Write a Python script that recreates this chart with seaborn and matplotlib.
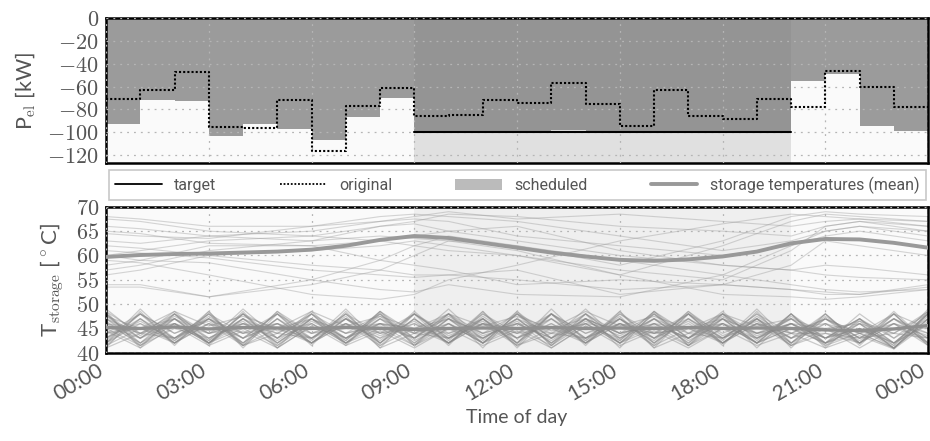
import matplotlib
matplotlib.use("Agg")
import matplotlib.pyplot as plt
import matplotlib.transforms as mtransforms
import seaborn as sns
from matplotlib.lines import Line2D
from matplotlib.patches import Patch

# hourly electrical power [kW], value i holds from hour i to i+1
hours = list(range(25))
scheduled = [-93, -72, -72.5, -103, -93, -97, -107, -87, -70, -100, -100, -100, -100,
             -98, -100, -100, -100, -100, -100, -100, -55.5, -49, -94.5, -99]
original = [-71, -63, -47.5, -95.5, -96.5, -71.5, -116, -77, -61, -86, -84.5, -72,
            -74, -56.5, -75.5, -94.5, -63, -85.5, -88.5, -71, -77.5, -46.5, -60, -77.5]
target_hours = [9, 10, 11, 12, 13, 14, 15, 16, 17, 18, 19, 20]
target = [-100, -100, -100, -100, -100, -100, -100, -100, -100, -100, -100, -100]
window = (9, 20)

# storage temperatures [°C]
mean_high = [59.7, 60.1, 60.3, 60.4, 60.6, 60.8, 61.2, 62.0, 63.2, 64.0, 63.6, 62.6, 61.6,
             60.6, 59.8, 59.1, 58.9, 59.2, 59.8, 60.8, 62.5, 63.4, 63.3, 62.6, 61.6]
mean_low = [45.2, 45.0, 45.3, 44.9, 45.2, 45.1, 45.0, 45.2, 45.0, 44.8, 45.0, 45.1, 45.0,
            45.2, 45.0, 45.1, 45.0, 45.2, 45.0, 45.1, 45.0, 44.7, 44.6, 44.9, 45.6]

upper_hours = [0, 1, 3, 6, 8, 9, 10, 12, 15, 18, 20, 21, 22, 24]
upper_lines = [
    [67.5, 67, 65, 64, 66, 67, 68.5, 68, 66, 65, 64, 66, 67, 66],
    [64.5, 64, 63.5, 66, 68, 68.5, 68, 67, 64, 61, 63, 65, 66, 64],
    [63, 62.5, 64, 65, 67, 67.5, 67, 64, 62, 60, 62, 64, 65, 63],
    [57, 58, 61, 63, 66, 66.5, 65, 63, 60, 58, 57, 58, 57.5, 56],
    [62, 61.5, 60, 58, 57, 56, 56, 55, 53, 54, 53, 52.5, 52, 53.5],
    [54, 54, 51.5, 55, 59, 62, 64, 62, 58, 63, 68, 69, 68.5, 68],
    [53.5, 53.5, 51.5, 54, 57, 60, 63, 61, 56, 62, 67, 68.5, 68, 67],
    [60, 59, 58.5, 55, 53, 52.5, 54, 52, 51.5, 56, 62, 65, 66, 65],
    [58, 59, 62, 62, 59, 58, 57, 54, 55, 54, 53, 52, 52, 54],
    [61, 60.5, 59.5, 57, 56, 55.5, 56, 57, 52, 54, 58, 63, 62, 60],
    [65, 64.5, 62.5, 62, 63, 64, 65, 66, 61, 58, 57, 56, 55.5, 55],
    [66, 65.5, 64, 63, 64, 63.5, 63, 62, 59, 56, 54, 53, 52.5, 53],
    [60, 61, 63, 64, 63, 62, 61, 60, 57, 55, 61, 66, 67, 65],
    [68, 67.5, 66, 66, 67, 68, 69, 67.5, 68.5, 67, 66, 67, 67.5, 66],
    [56, 57, 60, 61, 62, 63, 62, 60, 56, 52, 51.5, 51, 51.5, 53],
    [59, 58.5, 56, 52, 51, 52, 55, 58, 63, 66.5, 68.5, 68, 67.5, 67],
]

lower_lines = [
    [48, 42, 48, 42, 47, 43, 48, 42, 47, 43, 48, 42, 48, 43, 47, 42, 48, 43, 47, 42, 48, 43, 47, 42, 48],
    [42, 48, 42, 47, 43, 48, 42, 47, 42, 48, 43, 47, 42, 48, 43, 47, 42, 47, 43, 48, 42, 47, 43, 48, 42],
    [47, 43, 47, 42, 48, 42, 47, 43, 48, 42, 47, 43, 47, 42, 48, 43, 47, 42, 48, 43, 47, 42, 48, 43, 47],
    [43, 47, 43, 48, 42, 47, 43, 48, 42, 47, 42, 48, 43, 47, 42, 48, 43, 48, 42, 47, 43, 48, 42, 47, 43],
    [46, 44, 47, 43, 46, 44, 47, 43, 46, 44, 47, 44, 46, 43, 47, 44, 46, 43, 47, 44, 46, 43, 45, 42, 46],
    [44, 46, 43, 47, 44, 46, 43, 47, 44, 46, 43, 46, 44, 47, 43, 46, 44, 47, 43, 46, 44, 47, 44, 46, 44],
    [41.5, 47, 42, 48, 41.5, 47, 42, 48, 41.5, 47, 42, 47, 41.5, 48, 42, 47, 41.5, 48, 42, 47, 41.5, 47, 42, 48, 41.5],
    [48, 41.5, 47, 42, 48, 41.5, 47, 42, 48, 41.5, 47, 42, 48, 41.5, 47, 42, 48, 41.5, 47, 42, 48, 41.5, 46, 41, 47],
    [45, 45, 46, 44, 45, 46, 44, 45, 46, 45, 44, 46, 45, 44, 46, 45, 44, 45, 46, 44, 45, 46, 44, 45, 45],
    [47, 44, 48, 43, 47, 44, 48, 43, 47, 44, 48, 43, 47, 44, 48, 43, 47, 44, 48, 43, 46, 43, 47, 42, 48],
    [43, 48, 44, 47, 43, 48, 44, 47, 43, 48, 44, 47, 43, 48, 44, 47, 43, 48, 44, 47, 43, 47, 43, 46, 42],
    [42, 46, 42, 46, 43, 46, 42, 46, 43, 46, 42, 46, 43, 46, 42, 46, 43, 46, 42, 46, 43, 45, 42, 46, 41.5],
    [46, 42, 46, 42, 46, 43, 46, 42, 46, 43, 46, 42, 46, 43, 46, 42, 46, 43, 46, 42, 45, 42, 44, 41, 47],
    [48, 43, 48, 44, 48, 43, 48, 44, 48, 43, 48, 44, 48, 43, 48, 44, 48, 43, 48, 44, 47, 43, 47, 43, 48.5],
    [44, 48, 43, 48, 44, 48, 43, 48, 44, 48, 43, 48, 44, 48, 43, 48, 44, 48, 43, 48, 44, 47, 44, 48, 45],
    [41.5, 45, 42, 46, 41.5, 45, 42, 46, 41.5, 45, 42, 46, 41.5, 45, 42, 46, 41.5, 45, 42, 46, 41.5, 45, 41, 45, 43],
    [45, 41.5, 46, 42, 45, 41.5, 46, 42, 45, 41.5, 46, 42, 45, 41.5, 46, 42, 45, 41.5, 46, 42, 45, 42, 45, 42, 46],
    [47, 42, 47, 42, 47, 42, 47, 42, 47, 42, 47, 42, 47, 42, 47, 42, 47, 42, 47, 42, 46, 42, 46, 41, 47],
    [42, 47, 42, 47, 42, 47, 42, 47, 42, 47, 42, 47, 42, 47, 42, 47, 42, 47, 42, 47, 42, 46, 42, 47, 44],
    [46, 45, 47, 44, 46, 45, 47, 44, 46, 45, 47, 44, 46, 45, 47, 44, 46, 45, 47, 44, 46, 45, 46, 44, 48],
    [44, 45, 43, 46, 44, 45, 43, 46, 44, 45, 43, 46, 44, 45, 43, 46, 44, 45, 43, 46, 44, 44, 43, 44, 43],
    [47.5, 43, 46, 42.5, 47, 42, 46.5, 43, 47.5, 42.5, 46, 43, 47, 42, 46.5, 43.5, 47, 42.5, 46, 43, 47, 42, 45, 41.5, 48],
    [43, 46.5, 42.5, 47.5, 43, 46, 42, 47, 43.5, 46.5, 42, 47.5, 43, 46, 42.5, 47, 43, 46.5, 42, 47.5, 43, 46, 42.5, 47, 43],
    [45.5, 43, 47.5, 44, 46, 42.5, 47, 44, 45.5, 43, 47.5, 43.5, 46, 42.5, 47, 44, 45.5, 43, 47.5, 43.5, 46, 43, 46, 42, 47.5],
    [42.5, 48, 44, 46.5, 42, 48.5, 44, 46, 42.5, 48, 43.5, 46.5, 42, 48, 44, 46, 42.5, 48.5, 43.5, 46.5, 42, 47.5, 43, 47, 42],
    [48.5, 44, 46, 42, 48, 44.5, 46, 42.5, 48.5, 44, 46, 42, 48, 44.5, 46, 42.5, 48.5, 44, 46, 42, 47.5, 43, 45, 41, 48],
    [41, 44, 43, 47, 41.5, 44, 43, 47.5, 41, 44, 43, 47, 41.5, 44, 43, 47.5, 41, 44, 43, 47, 41.5, 44, 42, 46, 43.5],
    [46.5, 41.5, 45, 43, 46.5, 41, 45.5, 43, 46, 41.5, 45, 43, 46.5, 41, 45.5, 43, 46, 41.5, 45, 43, 46, 41.5, 44, 41, 46.5],
    [48.5, 41, 48, 41.5, 48.5, 41, 48, 41.5, 48.5, 41.5, 48, 41, 48.5, 41.5, 48, 41, 48.5, 41.5, 48, 41, 48, 41, 47, 40.8, 48.5],
    [41, 48.5, 41.5, 48.5, 41, 48, 41.5, 48.5, 41, 48, 41.5, 48.5, 41, 48, 41.5, 48.5, 41, 48, 41.5, 48.5, 41, 48, 41.5, 48, 41.5],
    [49, 43.5, 48.5, 42.5, 49, 43, 48.5, 42.5, 48.5, 43, 49, 42.5, 48.5, 43, 49, 42.5, 48.5, 43, 48.5, 42.5, 48, 42, 46.5, 41.5, 49],
    [42, 49, 42.5, 48.5, 41.5, 48.5, 42.5, 49, 42, 48.5, 42.5, 48.5, 42, 49, 42.5, 48.5, 42, 48.5, 42.5, 49, 42, 48, 42, 48.5, 42],
    [44.5, 41, 45.5, 41.5, 44.5, 41, 45.5, 41.5, 44.5, 41, 45, 41.5, 44.5, 41, 45.5, 41.5, 44.5, 41, 45, 41.5, 44, 41, 43.5, 40.8, 46],
    [47.5, 45, 48.5, 45.5, 47.5, 45, 48.5, 45.5, 47.5, 45, 48, 45.5, 47.5, 45, 48.5, 45.5, 47.5, 45, 48, 45.5, 47, 44.5, 46.5, 44, 48.5],
]

power_ticks = [-120, -100, -80, -60, -40, -20, 0]
temp_ticks = [40, 45, 50, 55, 60, 65, 70]
time_labels = ["00:00", "03:00", "06:00", "09:00", "12:00", "15:00", "18:00", "21:00", "00:00"]

sns.set_style("whitegrid")
plt.rcParams["mathtext.fontset"] = "cm"

fig = plt.figure(figsize=(9.3, 4.41), dpi=100)
ax1 = fig.add_axes([0.114, 0.630, 0.884, 0.329])
ax2 = fig.add_axes([0.114, 0.200, 0.884, 0.331])

grid_kw = dict(color="#b5b5b5", linestyle=(0, (1.5, 4)), linewidth=0.9)
for ax in (ax1, ax2):
    ax.set_facecolor("#fafafa")
    ax.grid(True, **grid_kw)
    ax.set_axisbelow(False)
    for s in ax.spines.values():
        s.set_color("black")
        s.set_linewidth(1.8)
        s.set_visible(True)
    ax.set_xlim(0, 24)
    ax.set_xticks(range(0, 25, 3))
    ax.tick_params(length=0, colors="#555555")
    ax.tick_params(axis="y", labelsize=16, pad=5)

# power panel
ax1.axvspan(*window, color="#e0e0e0", zorder=0, lw=0)
ax1.bar(hours[:-1], scheduled, width=1, align="edge",
        color="#777777", alpha=0.72, lw=0, zorder=1)
ax1.step(hours, original + [original[-1]], where="post", color="black",
         linestyle=(0, (1, 1)), lw=1.5, zorder=3)
ax1.step(target_hours, target, where="post", color="black", lw=1.5, zorder=3)
ax1.set_ylim(-127, 0)
ax1.set_yticks(power_ticks)
ax1.set_yticklabels([f"${v}$" for v in power_ticks])
ax1.set_xticklabels([])
ax1.set_ylabel(r"P$_\mathrm{el}$ [kW]", fontsize=15.5, color="#555555",
               family="Lato", labelpad=7)

# temperature panel
ax2.axvspan(*window, color="#efefef", zorder=0, lw=0)
for line in upper_lines:
    ax2.plot(upper_hours, line, color="#999999", alpha=0.4, lw=0.8, zorder=1)
for line in lower_lines:
    ax2.plot(hours, line, color="#888888", alpha=0.42, lw=0.9, zorder=1)
sns.lineplot(x=hours, y=mean_high, ax=ax2, color="#999999", lw=2.8, zorder=4)
sns.lineplot(x=hours, y=mean_low, ax=ax2, color="#8f8f8f", lw=2.4, zorder=4)
ax2.set_ylim(40, 70)
ax2.set_yticks(temp_ticks)
ax2.set_yticklabels([f"${v}$" for v in temp_ticks])
ax2.set_xticklabels(time_labels, rotation=30, ha="right", va="center",
                    rotation_mode="anchor", family="Lato", fontsize=15)
ax2.tick_params(axis="x", pad=12)
shift = mtransforms.ScaledTranslation(-4 / 100, 0, fig.dpi_scale_trans)
for lab in ax2.get_xticklabels():
    lab.set_transform(lab.get_transform() + shift)
ax2.set_ylabel(r"T$_\mathrm{storage}$ [$^\circ$C]", fontsize=16, color="#555555",
               family="Lato", labelpad=7)
ax2.set_xlabel("Time of day", fontsize=14, color="#555555", family="Lato", labelpad=3)

handles = [
    Line2D([], [], color="black", lw=1.3),
    Line2D([], [], color="black", lw=1.3, linestyle=(0, (1, 1))),
    Patch(facecolor="#bbbbbb", edgecolor="none"),
    Line2D([], [], color="#999999", lw=2.8),
]
labels = ["target", "original", "scheduled", "storage temperatures (mean)"]
leg = fig.legend(handles, labels, loc="center", ncol=4, mode="expand",
                 bbox_to_anchor=(0.117, 0.551, 0.879, 0.058),
                 frameon=True, fancybox=False, framealpha=1, edgecolor="#c8c8c8",
                 handlelength=2.9, borderaxespad=0,
                 prop={"family": "Roboto", "size": 11.5})
leg.get_frame().set_linewidth(1.2)
for t in leg.get_texts():
    t.set_color("#555555")

fig.savefig("out.png", dpi=100, facecolor="white")
